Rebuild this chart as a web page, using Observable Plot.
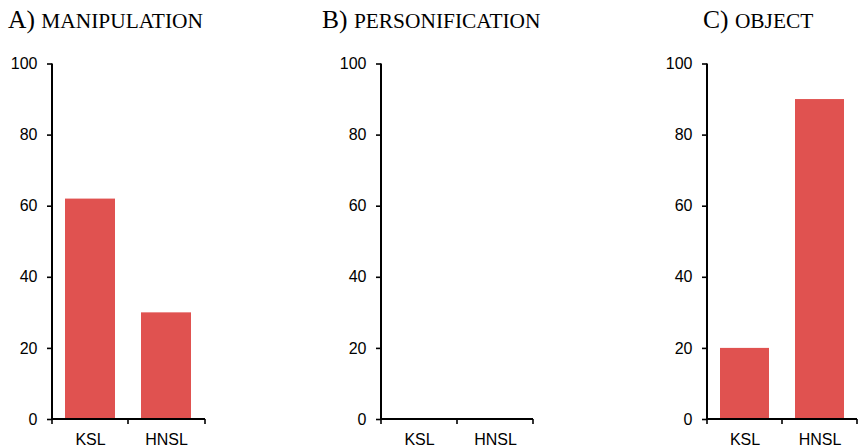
<!DOCTYPE html>
<html>
<head>
<meta charset="utf-8">
<script src="https://cdn.jsdelivr.net/npm/d3@7"></script>
<script src="https://cdn.jsdelivr.net/npm/@observablehq/plot@0.6"></script>
<style>
  html, body { margin: 0; padding: 0; background: #fff; }
  #chart { position: relative; width: 859px; height: 448px; overflow: hidden; }
  #chart svg { position: absolute; top: 0; }
</style>
</head>
<body>
<div id="chart"></div>
<script>
const categories = ["KSL", "HNSL"];
const manipulation = [62, 30];
const personification = [0, 0];
const object = [20, 90];
const yTicks = [0, 20, 40, 60, 80, 100];
const panelLetters = ["A)", "B)", "C)"];
const panelNames = ["manipulation", "personification", "object"];
const barColor = "#e05250";

const layout = [
  {left: 0,   width: 215, ml: 52, mr: 10, titleX: 8},
  {left: 320, width: 223, ml: 61, mr: 10, titleX: 2},
  {left: 640, width: 219, ml: 67, mr: 2,  titleX: 63}
];
const series = [manipulation, personification, object];

const container = document.getElementById("chart");

series.forEach((values, i) => {
  const L = layout[i];
  const data = categories.map((c, j) => ({cat: c, v: values[j]}));
  const plot = Plot.plot({
    width: L.width,
    height: 448,
    marginTop: 63.5,
    marginBottom: 29,
    marginLeft: L.ml,
    marginRight: L.mr,
    style: {fontFamily: "'Liberation Sans', Arial, sans-serif", fontSize: "16px", background: "transparent", color: "#000", overflow: "visible"},
    x: {domain: categories, paddingInner: 0.34, paddingOuter: 0.17, label: null},
    y: {domain: [0, 100], label: null},
    marks: [
      Plot.barY(data, {x: "cat", y: "v", fill: barColor}),
      Plot.axisY({ticks: yTicks, tickSize: 5, tickPadding: 10, strokeWidth: 1.6, label: null, fontSize: 16}),
      Plot.axisX({tickSize: 0, tickPadding: 14.6, label: null, fontSize: 16})
    ]
  });
  plot.style.left = L.left + "px";

  const xs = plot.scale("x");
  const ys = plot.scale("y");
  const x0 = xs.range[0], x1 = xs.range[1];
  const mid = (xs.apply(categories[0]) + xs.bandwidth + xs.apply(categories[1])) / 2;
  const y0 = ys.apply(0), y100 = ys.apply(100);
  const svg = d3.select(plot);
  const g = svg.append("g").attr("stroke", "#000").attr("fill", "none");
  g.append("line").attr("x1", x0).attr("x2", x0).attr("y1", y100).attr("y2", y0).attr("stroke-width", 2);
  g.append("line").attr("x1", x0 - 1).attr("x2", x1).attr("y1", y0).attr("y2", y0).attr("stroke-width", 2);
  [x0, mid, x1].forEach(bx => {
    g.append("line").attr("x1", bx).attr("x2", bx).attr("y1", y0).attr("y2", y0 + 5).attr("stroke-width", 1.6);
  });

  const t = svg.append("text")
    .attr("x", L.titleX).attr("y", 28)
    .attr("text-anchor", "start")
    .attr("font-family", "'Liberation Serif', 'Times New Roman', serif")
    .attr("fill", "#000");
  t.append("tspan").attr("font-size", 25.5).text(panelLetters[i] + " ");
  t.append("tspan").attr("font-size", 21.4).text(panelNames[i].toUpperCase());

  container.appendChild(plot);
});
</script>
</body>
</html>
